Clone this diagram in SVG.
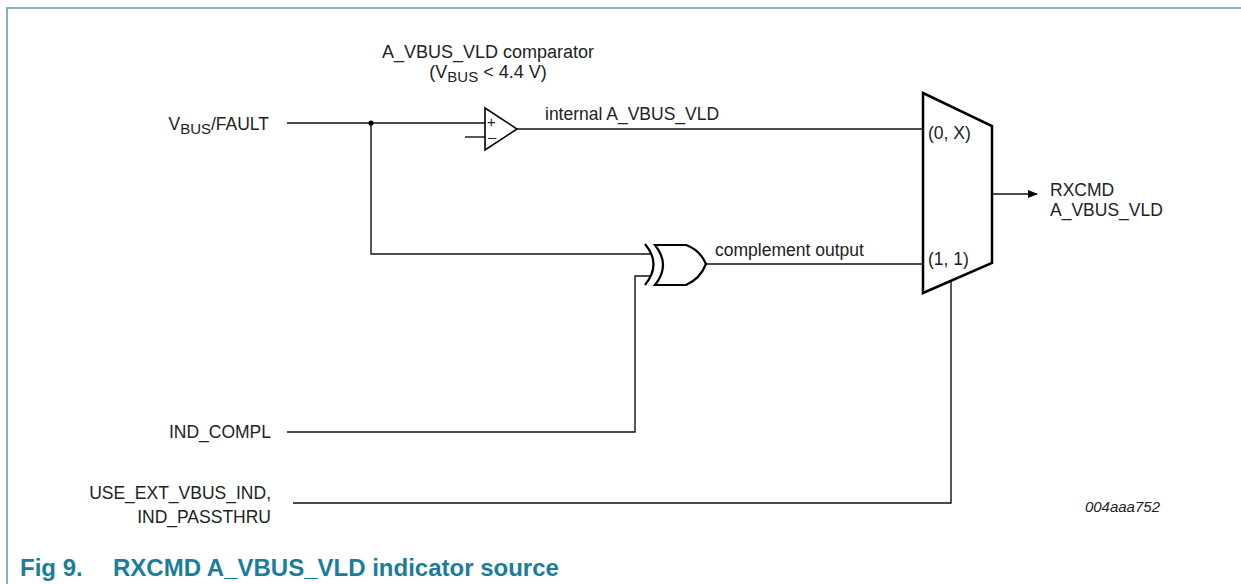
<svg xmlns="http://www.w3.org/2000/svg" width="1241" height="584" viewBox="0 0 1241 584">
<defs>
<style>
.t{font-family:"Liberation Sans",Arial,sans-serif;font-size:17.5px;fill:#222}
.s{font-size:15px}
.w{fill:none;stroke:#111;stroke-width:1.4}
.g{fill:none;stroke:#000;stroke-width:2.2;stroke-linejoin:miter}
.cap{font-family:"Liberation Sans",Arial,sans-serif;font-size:24px;font-weight:bold;fill:#1b7d9a}
</style>
<marker id="arr" markerWidth="10" markerHeight="8" refX="9" refY="4" orient="auto" markerUnits="userSpaceOnUse">
<path d="M0,0 L10,4 L0,8 Z" fill="#000"/>
</marker>
</defs>
<rect width="1241" height="584" fill="#fff"/>
<g id="frame">
<path d="M7,584 L7,8 L1241,8" fill="none" stroke="#5a9bb2" stroke-width="1.5"/>
</g>
<g id="connectors">
<path class="w" d="M287,123 L485,123"/>
<path class="w" d="M465,137 L485,137"/>
<path class="w" d="M517,129 L923,129"/>
<path class="w" d="M371,123 L371,254 L651,254"/>
<path class="w" d="M287,432 L635,432 L635,276 L651,276"/>
<path class="w" d="M706,264 L923,264"/>
<path class="w" d="M293,503 L951,503 L951,281"/>
<path class="w" d="M992,194 L1037,194" marker-end="url(#arr)"/>
<circle cx="371" cy="123" r="2.6" fill="#000"/>
</g>
<g id="comparator">
<path d="M485,108 L517,129 L485,150 Z" fill="none" stroke="#000" stroke-width="1.6"/>
<text class="t s" x="487" y="127">+</text>
<text class="t s" x="488" y="142">–</text>
</g>
<g id="xor">
<path class="g" d="M645,244 Q662,264 645,285"/>
<path class="g" d="M655,245 L686,245 Q700,250 706,264 Q700,279 686,285 L655,285 Q671,265 655,245 Z"/>
</g>
<g id="mux">
<path d="M923,93 L992,126 L992,263 L923,293 Z" fill="none" stroke="#000" stroke-width="2.5"/>
<text class="t" x="928" y="139">(0, X)</text>
<text class="t" x="928" y="265">(1, 1)</text>
</g>
<g id="labels">
<text class="t" x="488" y="58" text-anchor="middle" style="font-size:18px">A_VBUS_VLD comparator</text>
<text class="t" x="488" y="78" text-anchor="middle" style="font-size:18px">(V<tspan dy="4" style="font-size:15px">BUS</tspan><tspan dy="-4"> &lt; 4.4 V)</tspan></text>
<text class="t" x="269" y="130" text-anchor="end">V<tspan dy="4" style="font-size:15px">BUS</tspan><tspan dy="-4">/FAULT</tspan></text>
<text class="t" x="545" y="120">internal A_VBUS_VLD</text>
<text class="t" x="715" y="256">complement output</text>
<text class="t" x="1050" y="196">RXCMD</text>
<text class="t" x="1050" y="216">A_VBUS_VLD</text>
<text class="t" x="271" y="438" text-anchor="end">IND_COMPL</text>
<text class="t" x="271" y="499" text-anchor="end">USE_EXT_VBUS_IND,</text>
<text class="t" x="271" y="523" text-anchor="end">IND_PASSTHRU</text>
<text class="t" x="1160" y="512" text-anchor="end" style="font-size:15px;font-style:italic">004aaa752</text>
</g>
<g id="caption">
<text class="cap" x="20" y="576">Fig 9.</text>
<text class="cap" x="113" y="576">RXCMD A_VBUS_VLD indicator source</text>
</g>
</svg>
